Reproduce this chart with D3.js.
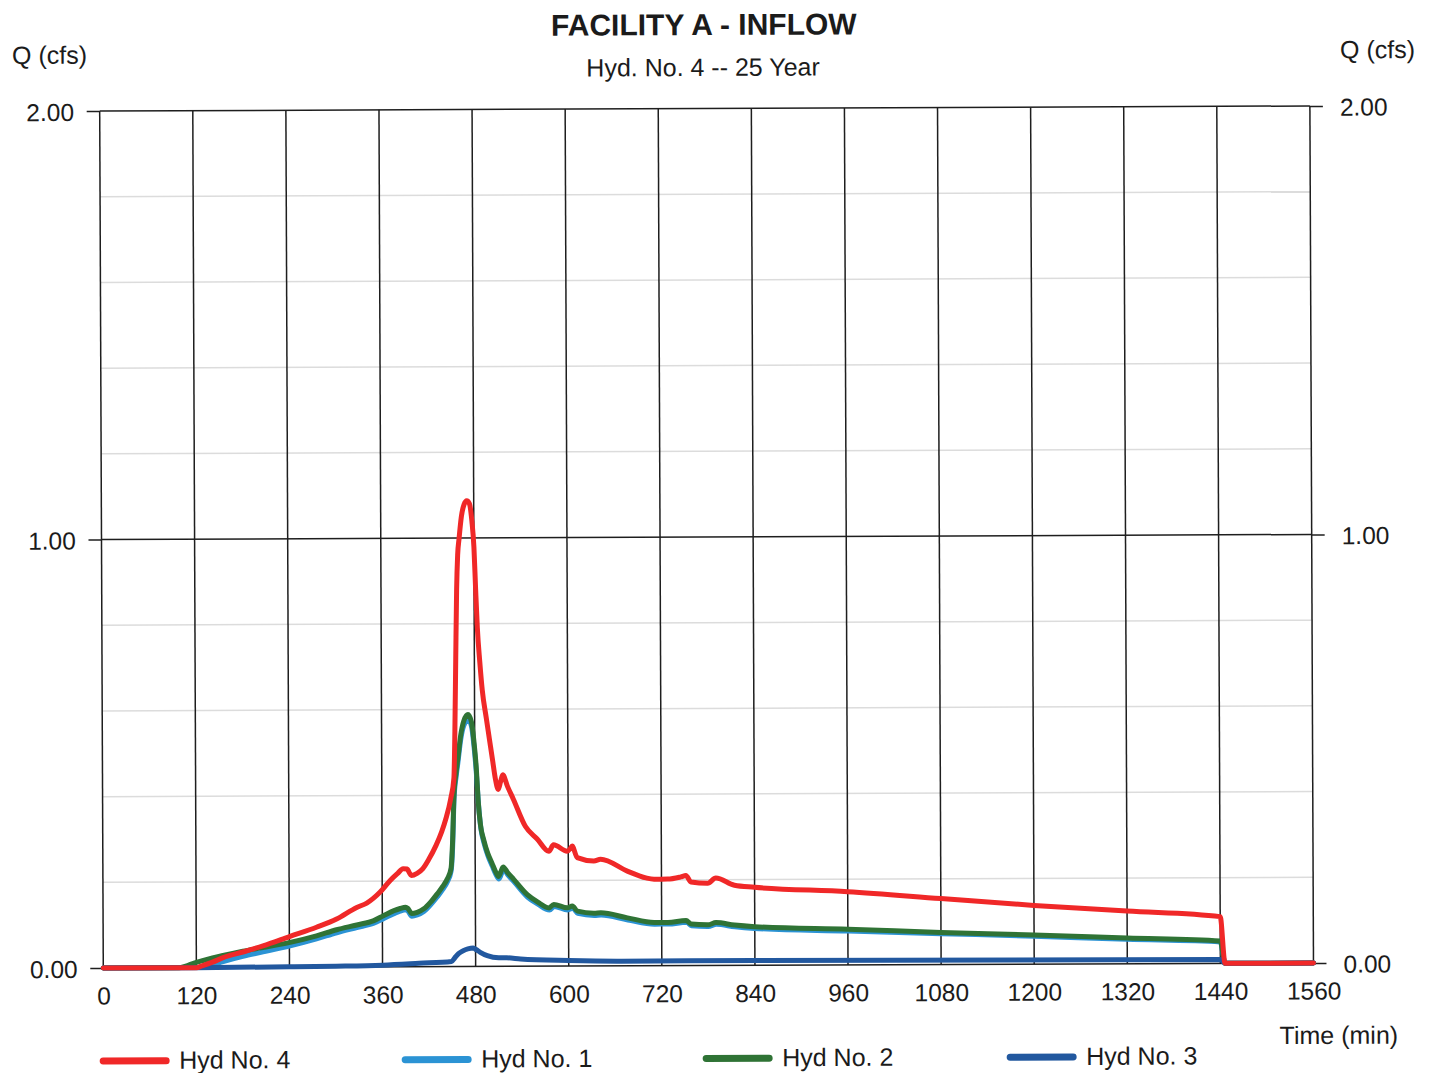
<!DOCTYPE html>
<html>
<head>
<meta charset="utf-8">
<script src="https://cdn.jsdelivr.net/npm/d3@7"></script>
<style>
  html, body { margin: 0; padding: 0; background: #fff; }
  svg { display: block; }
  text { font-family: "Liberation Sans", Arial, sans-serif; fill: #1b1b1b; }
</style>
</head>
<body>
<svg id="chart" width="1435" height="1073"></svg>
<script>
// Axis ticks
const timeTicks = d3.range(0, 1561, 120);
const flowTicks = [0, 1, 2];
const minorFlowTicks = [0.2, 0.4, 0.6, 0.8, 1.2, 1.4, 1.6, 1.8];

// Hydrographs: [time (min), Q (cfs)]
const hyd4 = [[0,0],[120,0],[127,0.004],[140,0.012],[154.5,0.023],[180,0.036],[206,0.05],[241,0.072],[275,0.093],[301,0.112],[327,0.139],[340,0.149],[357,0.174],[370,0.201],[380,0.218],[387,0.229],[392,0.228],[397.6,0.213],[405,0.218],[412.5,0.229],[420,0.25],[429.6,0.283],[437,0.315],[442.4,0.345],[448.8,0.392],[453,0.44],[454.5,0.55],[456,0.72],[457.5,0.88],[459,0.96],[461,1.0],[464,1.05],[467.5,1.078],[471,1.087],[474.5,1.08],[477.5,1.04],[480,0.98],[482,0.88],[484,0.79],[487,0.71],[490,0.645],[495,0.58],[499,0.53],[503,0.48],[506.5,0.437],[510,0.413],[513,0.43],[516,0.447],[522,0.42],[529.5,0.39],[545,0.326],[560,0.297],[575,0.268],[581,0.283],[598.6,0.268],[603,0.275],[605,0.28],[611.5,0.253],[633,0.245],[641.6,0.249],[676,0.221],[700,0.205],[710.5,0.202],[728,0.202],[745,0.207],[751.5,0.21],[758,0.195],[779.6,0.192],[790,0.204],[814,0.187],[840,0.182],[960,0.171],[1080,0.154],[1200,0.137],[1320,0.123],[1440,0.109],[1446,0],[1560,0]];

const hyd1 = [[0,0],[125,0],[140,0.006],[154.5,0.014],[180,0.026],[206,0.036],[241,0.05],[275,0.066],[301,0.08],[327,0.092],[349,0.102],[362,0.113],[375,0.124],[383,0.13],[390,0.133],[393,0.13],[398,0.118],[405,0.121],[413.5,0.129],[422,0.144],[431,0.163],[438,0.18],[444,0.198],[448.8,0.222],[451,0.28],[453,0.39],[456,0.445],[458.5,0.48],[462,0.53],[466,0.562],[472,0.576],[476,0.56],[479,0.515],[482,0.45],[484.5,0.38],[487.5,0.322],[491.5,0.288],[496.5,0.258],[502,0.234],[506.5,0.215],[510.5,0.204],[516.5,0.226],[522.5,0.212],[530,0.197],[547.5,0.161],[560.5,0.145],[575.5,0.131],[581.5,0.139],[599,0.131],[605.5,0.135],[612,0.123],[633.5,0.118],[642,0.119],[676.5,0.107],[711,0.097],[728.5,0.097],[752,0.101],[758.5,0.093],[780,0.091],[790.5,0.096],[814.5,0.09],[840,0.086],[960,0.079],[1080,0.072],[1200,0.065],[1320,0.057],[1440,0.05],[1446,0],[1560,0]];

const hyd2 = [[0,0],[98,0],[110,0.006],[120,0.012],[154.5,0.028],[180,0.038],[206,0.046],[241,0.058],[275,0.073],[301,0.087],[327,0.098],[349,0.108],[362,0.12],[375,0.131],[383,0.136],[390,0.139],[393,0.136],[398,0.124],[405,0.127],[413.5,0.135],[422,0.15],[431,0.17],[438,0.187],[444,0.205],[448.8,0.229],[450.9,0.29],[453,0.40],[456,0.455],[458.5,0.49],[462,0.54],[466,0.573],[471.5,0.588],[476,0.57],[479,0.525],[482,0.46],[484,0.39],[487,0.33],[491,0.296],[496,0.265],[501.6,0.241],[506,0.222],[510,0.21],[516,0.232],[522,0.218],[529.5,0.203],[547,0.167],[560,0.15],[575,0.136],[581,0.144],[598.6,0.136],[605,0.14],[611.5,0.128],[633,0.123],[641.6,0.124],[676,0.112],[710.5,0.101],[728,0.101],[751.5,0.105],[758,0.097],[779.6,0.095],[790,0.1],[814,0.094],[840,0.09],[960,0.083],[1080,0.075],[1200,0.068],[1320,0.06],[1440,0.052],[1446,0],[1560,0]];

const hyd3 = [[0,0],[120,0],[240,0.001],[300,0.002],[360,0.004],[407,0.008],[449,0.012],[453,0.02],[458,0.03],[464,0.037],[470,0.041],[477,0.043],[481,0.039],[486,0.033],[495,0.025],[510,0.02],[520,0.02],[538,0.017],[600,0.013],[668,0.011],[840,0.011],[1440,0.009],[1446,0],[1560,0]];

const legendNames = ["Hyd No. 4", "Hyd No. 1", "Hyd No. 2", "Hyd No. 3"];
const colors = { "Hyd No. 1": "#2b93d4", "Hyd No. 2": "#2f7335", "Hyd No. 3": "#22589f", "Hyd No. 4": "#f02828" };

// Drawing order: Hyd No. 4 ends up on top
const series = [
  { name: "Hyd No. 1", data: hyd1 },
  { name: "Hyd No. 2", data: hyd2 },
  { name: "Hyd No. 3", data: hyd3 },
  { name: "Hyd No. 4", data: hyd4 }
];

const svg = d3.select("#chart");
svg.append("rect").attr("width", 1435).attr("height", 1073).attr("fill", "#fff");

// The sheet sits very slightly tilted
const root = svg.append("g").attr("transform", "rotate(-0.24, 705, 540)");

const plotLeft = 101.5, plotRight = 1311.7, plotTop = 108.5, plotBottom = 965.5;
const x = d3.scaleLinear().domain([0, 1560]).range([plotLeft, plotRight]);
const y = d3.scaleLinear().domain([0, 2]).range([plotBottom, plotTop]);

// Minor horizontal grid
root.append("g").selectAll("line").data(minorFlowTicks).join("line")
  .attr("x1", plotLeft).attr("x2", plotRight)
  .attr("y1", d => y(d)).attr("y2", d => y(d))
  .attr("stroke", "#dcdcdc").attr("stroke-width", 1.5);

// Major vertical grid
root.append("g").selectAll("line").data(timeTicks).join("line")
  .attr("x1", d => x(d)).attr("x2", d => x(d))
  .attr("y1", plotTop).attr("y2", plotBottom)
  .attr("stroke", "#1e1e1e").attr("stroke-width", 1.5);

// Major horizontal grid
root.append("g").selectAll("line").data(flowTicks).join("line")
  .attr("x1", plotLeft).attr("x2", plotRight)
  .attr("y1", d => y(d)).attr("y2", d => y(d))
  .attr("stroke", "#1e1e1e").attr("stroke-width", 1.5);

// Left and right Q axes
const fmt = d3.format(".2f");
const yLeft = root.append("g").attr("transform", `translate(${plotLeft},0)`)
  .call(d3.axisLeft(y).tickValues(flowTicks).tickFormat(fmt).tickSize(13).tickPadding(12));
const yRight = root.append("g").attr("transform", `translate(${plotRight},0)`)
  .call(d3.axisRight(y).tickValues(flowTicks).tickFormat(fmt).tickSize(13).tickPadding(16));
[yLeft, yRight].forEach(g => {
  g.select(".domain").remove();
  g.selectAll(".tick line").attr("stroke", "#1e1e1e").attr("stroke-width", 1.5);
  g.selectAll("text").attr("font-size", 24.5).attr("fill", "#1b1b1b")
    .attr("font-family", "Liberation Sans, Arial, sans-serif").attr("dy", "0.38em");
});
yLeft.selectAll("text").attr("x", -25.7);
yRight.selectAll("text").attr("x", 30);

// Time axis
const xAxis = root.append("g").attr("transform", `translate(0,${plotBottom})`)
  .call(d3.axisBottom(x).tickValues(timeTicks).tickFormat(d3.format("d")).tickSize(0));
xAxis.select(".domain").remove();
xAxis.selectAll("text").attr("y", 36.5).attr("dy", 0).attr("font-size", 24.5)
  .attr("fill", "#1b1b1b").attr("font-family", "Liberation Sans, Arial, sans-serif");

// Hydrograph lines
const line = d3.line().x(d => x(d[0])).y(d => y(d[1])).curve(d3.curveMonotoneX);
root.append("g").selectAll("path").data(series).join("path")
  .attr("d", d => line(d.data))
  .attr("fill", "none")
  .attr("stroke", d => colors[d.name])
  .attr("stroke-width", 5)
  .attr("stroke-linejoin", "round")
  .attr("stroke-linecap", "round");

// Titles
root.append("text").attr("x", 706).attr("y", 35).attr("text-anchor", "middle")
  .attr("font-size", 30).attr("font-weight", "bold").text("FACILITY A - INFLOW");
root.append("text").attr("x", 705).attr("y", 76).attr("text-anchor", "middle")
  .attr("font-size", 25).text("Hyd. No. 4 -- 25 Year");
root.append("text").attr("x", 14).attr("y", 61).attr("font-size", 25).text("Q (cfs)");
root.append("text").attr("x", 1342).attr("y", 61).attr("font-size", 25).text("Q (cfs)");
root.append("text").attr("x", 1396).attr("y", 1046.5).attr("text-anchor", "end")
  .attr("font-size", 25).text("Time (min)");

// Legend
const legendX = [101, 403, 704, 1008];
const legend = root.append("g").selectAll("g").data(legendNames).join("g")
  .attr("transform", (d, i) => `translate(${legendX[i]},1058.5)`);
legend.append("line").attr("x1", 0).attr("x2", 63).attr("y1", 0).attr("y2", 0)
  .attr("stroke", d => colors[d]).attr("stroke-width", 7).attr("stroke-linecap", "round");
legend.append("text").attr("x", 76).attr("y", 8).attr("font-size", 25).text(d => d);
</script>
</body>
</html>
